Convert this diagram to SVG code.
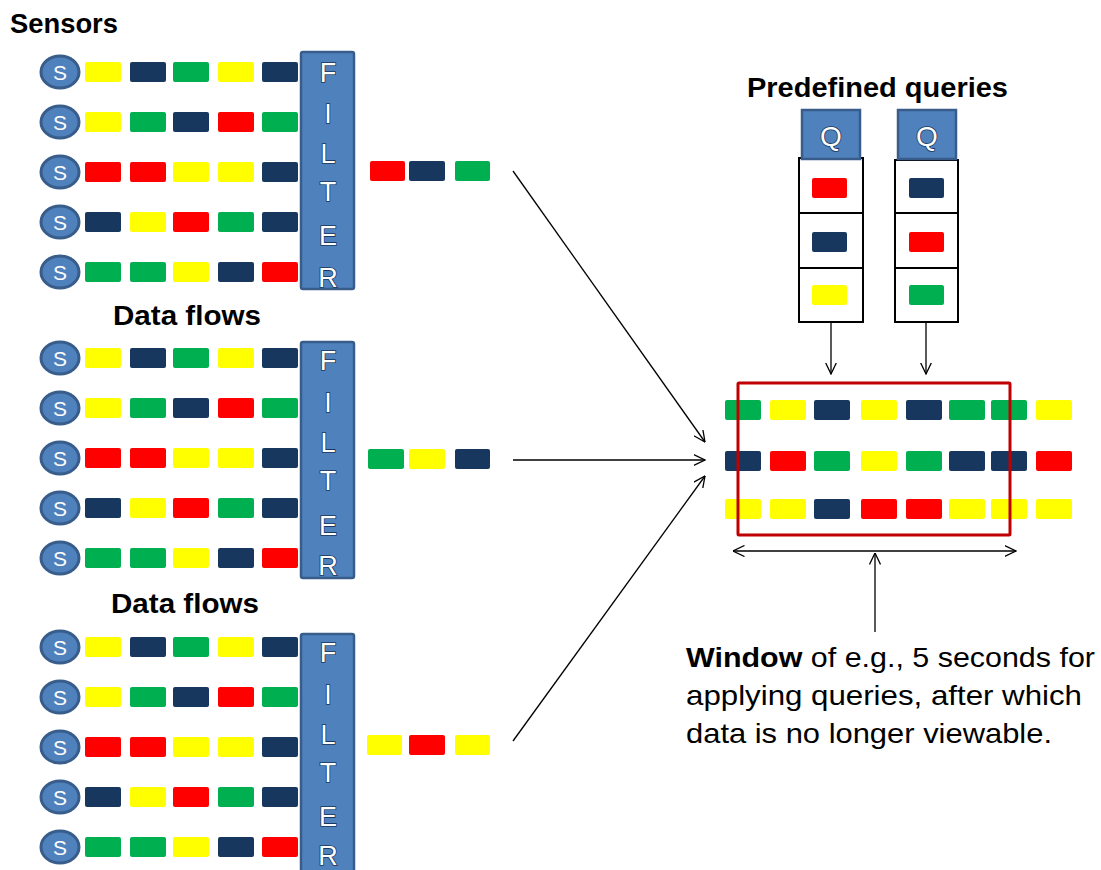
<svg xmlns="http://www.w3.org/2000/svg" width="1101" height="870" viewBox="0 0 1101 870">
<style>
.Y{fill:#FFFF00}.N{fill:#17375E}.G{fill:#00B050}.R{fill:#FF0000}
.sc{fill:#4F81BD;stroke:#385D8A;stroke-width:3}
.st{font-family:"Liberation Sans",Arial,sans-serif;font-size:21px;fill:#fff;text-anchor:middle}
.flt{fill:#4F81BD;stroke:#385D8A;stroke-width:2.5}
.fl{font-family:"Liberation Sans",Arial,sans-serif;font-size:27px;fill:#fff;stroke:#17375E;stroke-width:1.6;paint-order:stroke;text-anchor:middle}
.h{font-family:"Liberation Sans",Arial,sans-serif;font-weight:bold;font-size:27px;fill:#000}
.t{font-family:"Liberation Sans",Arial,sans-serif;font-size:28px;fill:#000}
.ln{stroke:#000;stroke-width:1.3;fill:none}
.cell{fill:#fff;stroke:#000;stroke-width:2}
</style>
<defs>
<marker id="ah" viewBox="0 0 12 12" refX="11.5" refY="6" markerWidth="12" markerHeight="12" markerUnits="userSpaceOnUse" orient="auto-start-reverse">
<path d="M0,0.5 L11.5,6 L0,11.5" fill="none" stroke="#000" stroke-width="1.3"/>
</marker>
<g id="row1"><rect class="Y" x="85" y="-10" width="36" height="20" rx="2"/><rect class="N" x="130" y="-10" width="36" height="20" rx="2"/><rect class="G" x="173" y="-10" width="36" height="20" rx="2"/><rect class="Y" x="218" y="-10" width="36" height="20" rx="2"/><rect class="N" x="262" y="-10" width="36" height="20" rx="2"/></g>
<g id="row2"><rect class="Y" x="85" y="-10" width="36" height="20" rx="2"/><rect class="G" x="130" y="-10" width="36" height="20" rx="2"/><rect class="N" x="173" y="-10" width="36" height="20" rx="2"/><rect class="R" x="218" y="-10" width="36" height="20" rx="2"/><rect class="G" x="262" y="-10" width="36" height="20" rx="2"/></g>
<g id="row3"><rect class="R" x="85" y="-10" width="36" height="20" rx="2"/><rect class="R" x="130" y="-10" width="36" height="20" rx="2"/><rect class="Y" x="173" y="-10" width="36" height="20" rx="2"/><rect class="Y" x="218" y="-10" width="36" height="20" rx="2"/><rect class="N" x="262" y="-10" width="36" height="20" rx="2"/></g>
<g id="row4"><rect class="N" x="85" y="-10" width="36" height="20" rx="2"/><rect class="Y" x="130" y="-10" width="36" height="20" rx="2"/><rect class="R" x="173" y="-10" width="36" height="20" rx="2"/><rect class="G" x="218" y="-10" width="36" height="20" rx="2"/><rect class="N" x="262" y="-10" width="36" height="20" rx="2"/></g>
<g id="row5"><rect class="G" x="85" y="-10" width="36" height="20" rx="2"/><rect class="G" x="130" y="-10" width="36" height="20" rx="2"/><rect class="Y" x="173" y="-10" width="36" height="20" rx="2"/><rect class="N" x="218" y="-10" width="36" height="20" rx="2"/><rect class="R" x="262" y="-10" width="36" height="20" rx="2"/></g>
<g id="sens"><ellipse class="sc" cx="60" cy="0" rx="19" ry="16"/><text class="st" x="60" y="8">S</text></g>
</defs>
<rect width="1101" height="870" fill="#fff"/>

<text class="h" x="10" y="33" textLength="108" lengthAdjust="spacingAndGlyphs">Sensors</text>
<text class="h" x="113" y="325" textLength="148" lengthAdjust="spacingAndGlyphs">Data flows</text>
<text class="h" x="111" y="613" textLength="148" lengthAdjust="spacingAndGlyphs">Data flows</text>
<text class="h" x="747" y="97" textLength="261" lengthAdjust="spacingAndGlyphs">Predefined queries</text>

<g id="block1">
<use href="#sens" y="72"/><use href="#row1" y="72"/>
<use href="#sens" y="122"/><use href="#row2" y="122"/>
<use href="#sens" y="172"/><use href="#row3" y="172"/>
<use href="#sens" y="222"/><use href="#row4" y="222"/>
<use href="#sens" y="272"/><use href="#row5" y="272"/>
</g>
<g id="filter1">
<rect class="flt" x="301" y="52" width="53" height="237" rx="2"/>
<text class="fl" x="328" y="82">F</text><text class="fl" x="328" y="123">I</text><text class="fl" x="328" y="163">L</text><text class="fl" x="328" y="201">T</text><text class="fl" x="328" y="245">E</text><text class="fl" x="328" y="287">R</text>
</g>
<g id="out1"><rect class="R" x="370" y="161" width="35" height="20" rx="2"/><rect class="N" x="409" y="161" width="36" height="20" rx="2"/><rect class="G" x="455" y="161" width="35" height="20" rx="2"/></g>

<g id="block2">
<use href="#sens" y="358"/><use href="#row1" y="358"/>
<use href="#sens" y="408"/><use href="#row2" y="408"/>
<use href="#sens" y="458"/><use href="#row3" y="458"/>
<use href="#sens" y="508"/><use href="#row4" y="508"/>
<use href="#sens" y="558"/><use href="#row5" y="558"/>
</g>
<g id="filter2">
<rect class="flt" x="301" y="342" width="53" height="236" rx="2"/>
<text class="fl" x="328" y="370">F</text><text class="fl" x="328" y="412">I</text><text class="fl" x="328" y="452">L</text><text class="fl" x="328" y="490">T</text><text class="fl" x="328" y="535">E</text><text class="fl" x="328" y="575">R</text>
</g>
<g id="out2"><rect class="G" x="368" y="449" width="36" height="20" rx="2"/><rect class="Y" x="409" y="449" width="36" height="20" rx="2"/><rect class="N" x="455" y="449" width="35" height="20" rx="2"/></g>

<g id="block3">
<use href="#sens" y="647"/><use href="#row1" y="647"/>
<use href="#sens" y="697"/><use href="#row2" y="697"/>
<use href="#sens" y="747"/><use href="#row3" y="747"/>
<use href="#sens" y="797"/><use href="#row4" y="797"/>
<use href="#sens" y="847"/><use href="#row5" y="847"/>
</g>
<g id="filter3">
<rect class="flt" x="301" y="634" width="53" height="245" rx="2"/>
<text class="fl" x="328" y="662">F</text><text class="fl" x="328" y="704">I</text><text class="fl" x="328" y="744">L</text><text class="fl" x="328" y="782">T</text><text class="fl" x="328" y="826">E</text><text class="fl" x="328" y="865">R</text>
</g>
<g id="out3"><rect class="Y" x="367" y="735" width="35" height="20" rx="2"/><rect class="R" x="409" y="735" width="36" height="20" rx="2"/><rect class="Y" x="455" y="735" width="35" height="20" rx="2"/></g>

<g id="query1">
<rect class="cell" x="799" y="158" width="64" height="55"/><rect class="cell" x="799" y="213" width="64" height="55"/><rect class="cell" x="799" y="268" width="64" height="54"/>
<rect class="R" x="812" y="178" width="35" height="20" rx="2"/><rect class="N" x="812" y="232" width="35" height="20" rx="2"/><rect class="Y" x="812" y="285" width="35" height="20" rx="2"/>
<rect class="flt" x="802" y="110" width="58" height="49"/>
<text class="fl" x="831" y="146" style="font-size:28px">Q</text>
</g>
<g id="query2">
<rect class="cell" x="895" y="160" width="63" height="53"/><rect class="cell" x="895" y="213" width="63" height="55"/><rect class="cell" x="895" y="268" width="63" height="54"/>
<rect class="N" x="909" y="178" width="35" height="20" rx="2"/><rect class="R" x="909" y="232" width="35" height="20" rx="2"/><rect class="G" x="909" y="285" width="35" height="20" rx="2"/>
<rect class="flt" x="898" y="110" width="58" height="49"/>
<text class="fl" x="927" y="146" style="font-size:28px">Q</text>
</g>

<g id="stream">
<rect class="G" x="725" y="400" width="36" height="20" rx="2"/><rect class="Y" x="770" y="400" width="36" height="20" rx="2"/><rect class="N" x="814" y="400" width="36" height="20" rx="2"/><rect class="Y" x="861" y="400" width="36" height="20" rx="2"/><rect class="N" x="906" y="400" width="36" height="20" rx="2"/><rect class="G" x="949" y="400" width="36" height="20" rx="2"/><rect class="G" x="991" y="400" width="36" height="20" rx="2"/><rect class="Y" x="1036" y="400" width="36" height="20" rx="2"/>
<rect class="N" x="725" y="451" width="36" height="20" rx="2"/><rect class="R" x="770" y="451" width="36" height="20" rx="2"/><rect class="G" x="814" y="451" width="36" height="20" rx="2"/><rect class="Y" x="861" y="451" width="36" height="20" rx="2"/><rect class="G" x="906" y="451" width="36" height="20" rx="2"/><rect class="N" x="949" y="451" width="36" height="20" rx="2"/><rect class="N" x="991" y="451" width="36" height="20" rx="2"/><rect class="R" x="1036" y="451" width="36" height="20" rx="2"/>
<rect class="Y" x="725" y="499" width="36" height="20" rx="2"/><rect class="Y" x="770" y="499" width="36" height="20" rx="2"/><rect class="N" x="814" y="499" width="36" height="20" rx="2"/><rect class="R" x="861" y="499" width="36" height="20" rx="2"/><rect class="R" x="906" y="499" width="36" height="20" rx="2"/><rect class="Y" x="949" y="499" width="36" height="20" rx="2"/><rect class="Y" x="991" y="499" width="36" height="20" rx="2"/><rect class="Y" x="1036" y="499" width="36" height="20" rx="2"/>
</g>
<g id="window">
<rect x="738" y="383" width="272" height="152" rx="1" fill="none" stroke="#C00000" stroke-width="3"/>
</g>

<g id="connectors">
<line class="ln" x1="513" y1="171" x2="705" y2="442" marker-end="url(#ah)"/>
<line class="ln" x1="513" y1="460" x2="705" y2="460" marker-end="url(#ah)"/>
<line class="ln" x1="513" y1="741" x2="705" y2="476" marker-end="url(#ah)"/>
<line class="ln" x1="831" y1="322" x2="831" y2="374" marker-end="url(#ah)"/>
<line class="ln" x1="926" y1="322" x2="926" y2="374" marker-end="url(#ah)"/>
<line class="ln" x1="733" y1="551" x2="1016" y2="551" marker-start="url(#ah)" marker-end="url(#ah)"/>
<line class="ln" x1="875" y1="632" x2="875" y2="553" marker-end="url(#ah)"/>
</g>

<g id="caption">
<text class="t" x="686" y="667" textLength="409" lengthAdjust="spacingAndGlyphs"><tspan font-weight="bold">Window</tspan> of e.g., 5 seconds for</text>
<text class="t" x="686" y="705" textLength="396" lengthAdjust="spacingAndGlyphs">applying queries, after which</text>
<text class="t" x="686" y="743" textLength="366" lengthAdjust="spacingAndGlyphs">data is no longer viewable.</text>
</g>
</svg>
